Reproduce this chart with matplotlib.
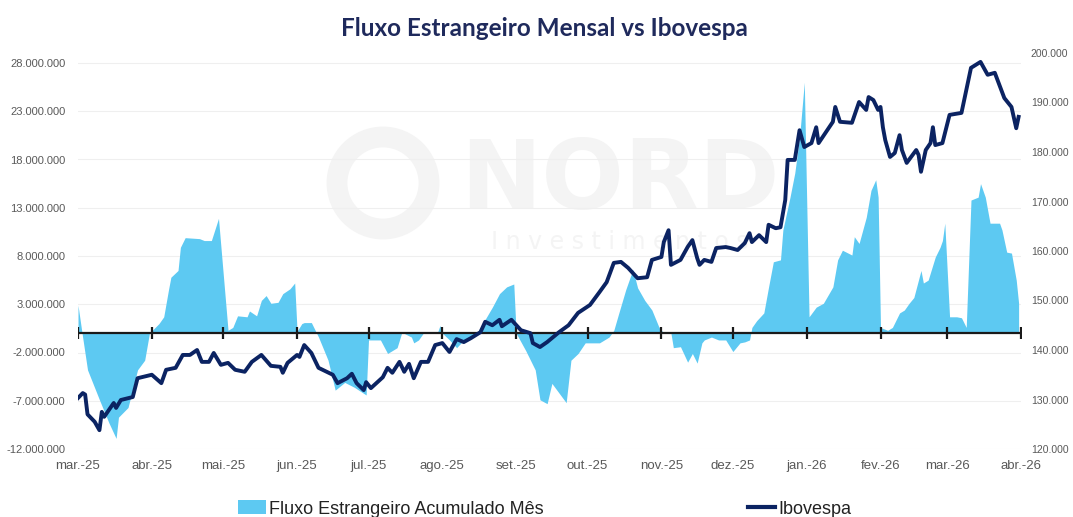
import matplotlib
matplotlib.use("Agg")
import matplotlib.pyplot as plt
from matplotlib import font_manager as fm
from matplotlib.patches import Circle, Patch
from matplotlib.lines import Line2D
import pandas as pd

# ---------------- data ----------------
flow_dates = [
    "2025-03-01", "2025-03-03", "2025-03-05", "2025-03-10", "2025-03-14", "2025-03-17", "2025-03-18",
    "2025-03-22", "2025-03-26", "2025-03-29", "2025-03-31",
    "2025-04-04", "2025-04-06", "2025-04-08", "2025-04-09", "2025-04-12", "2025-04-13", "2025-04-15",
    "2025-04-21", "2025-04-23", "2025-04-26", "2025-04-29",
    "2025-05-03", "2025-05-05", "2025-05-07", "2025-05-11", "2025-05-12", "2025-05-15", "2025-05-17",
    "2025-05-19", "2025-05-21", "2025-05-24", "2025-05-26", "2025-05-29", "2025-05-31",
    "2025-06-01", "2025-06-03", "2025-06-04", "2025-06-07", "2025-06-10", "2025-06-14", "2025-06-17",
    "2025-06-21", "2025-06-25", "2025-06-30",
    "2025-07-01", "2025-07-06", "2025-07-09", "2025-07-13", "2025-07-15", "2025-07-19", "2025-07-20",
    "2025-07-22", "2025-07-24", "2025-07-30", "2025-07-31",
    "2025-08-01", "2025-08-04", "2025-08-07", "2025-08-10", "2025-08-13", "2025-08-15", "2025-08-17",
    "2025-08-22", "2025-08-25", "2025-08-28", "2025-08-31",
    "2025-09-01", "2025-09-05", "2025-09-09", "2025-09-11", "2025-09-14", "2025-09-16", "2025-09-19",
    "2025-09-22", "2025-09-24", "2025-09-27", "2025-09-30",
    "2025-10-06", "2025-10-10", "2025-10-12", "2025-10-14", "2025-10-17", "2025-10-20", "2025-10-22",
    "2025-10-25", "2025-10-28", "2025-10-31",
    "2025-11-02", "2025-11-05", "2025-11-06", "2025-11-09", "2025-11-12", "2025-11-14", "2025-11-16",
    "2025-11-18", "2025-11-19", "2025-11-22", "2025-11-25", "2025-11-28",
    "2025-12-01", "2025-12-04", "2025-12-06", "2025-12-08", "2025-12-09", "2025-12-11", "2025-12-14",
    "2025-12-16", "2025-12-18", "2025-12-21", "2025-12-22", "2025-12-25", "2025-12-27", "2025-12-29",
    "2025-12-31",
    "2026-01-02", "2026-01-05", "2026-01-08", "2026-01-12", "2026-01-14", "2026-01-16", "2026-01-20",
    "2026-01-21", "2026-01-23", "2026-01-26", "2026-01-28", "2026-01-30", "2026-01-31",
    "2026-02-01", "2026-02-04", "2026-02-06", "2026-02-09", "2026-02-11", "2026-02-13", "2026-02-15",
    "2026-02-18", "2026-02-19", "2026-02-21", "2026-02-24", "2026-02-26", "2026-02-27", "2026-02-28",
    "2026-03-02", "2026-03-05", "2026-03-07", "2026-03-09", "2026-03-11", "2026-03-14", "2026-03-15",
    "2026-03-17", "2026-03-19", "2026-03-23", "2026-03-24", "2026-03-26", "2026-03-28", "2026-03-30",
    "2026-03-31",
]
# foreign flow, cumulative in the month (millions)
flow_values = [
    2.9, -0.5, -3.8, -6.9, -9.3, -10.9, -8.7,
    -7.7, -3.8, -2.8, 0.0,
    1.0, 1.7, 4.5, 5.8, 6.5, 8.9, 9.9,
    9.8, 9.6, 9.6, 11.9,
    0.3, 0.6, 1.8, 1.7, 2.3, 1.8, 3.4,
    3.9, 3.1, 3.2, 4.1, 4.6, 5.2,
    0.2, 1.0, 1.1, 1.1, -0.4, -2.8, -5.9,
    -5.1, -5.6, -6.4,
    -0.7, -0.7, -2.1, -1.5, 0.1, -0.4, -1.0,
    -0.7, 0.0, 0.1, 0.8,
    0.0, -0.7, -1.5, -0.7, -0.4, -0.2, 0.6,
    2.7, 4.1, 4.8, 5.1,
    0.0, -1.8, -3.8, -6.9, -7.3, -5.2, -6.2,
    -7.2, -2.8, -2.1, -1.0,
    -1.0, -0.4, 0.3, 2.0, 4.5, 6.6, 4.7,
    3.4, 2.4, 0.6,
    0.0, 0.0, -1.5, -1.4, -3.0, -2.1, -3.1,
    -1.0, -0.7, -0.4, -0.7, -0.7,
    -1.9, -1.0, -0.9, -0.7, 0.6, 1.3, 2.1,
    4.8, 7.4, 7.6, 10.7, 14.1, 16.6, 20.3,
    26.0,
    1.7, 2.7, 3.1, 4.8, 7.6, 8.6, 8.1,
    10.0, 9.3, 12.0, 14.8, 15.9, 14.1,
    0.6, 0.3, 0.6, 2.1, 2.4, 3.1, 3.7,
    6.5, 5.2, 5.5, 7.9, 8.9, 9.6, 11.4,
    1.7, 1.7, 1.6, 0.6, 13.8, 14.1, 15.5,
    14.1, 11.4, 11.4, 10.7, 8.4, 8.3, 5.5,
    3.1,
]

ibov_dates = [
    "2025-03-01", "2025-03-03", "2025-03-04", "2025-03-05", "2025-03-08", "2025-03-10", "2025-03-11",
    "2025-03-12", "2025-03-16", "2025-03-17", "2025-03-19", "2025-03-24", "2025-03-26",
    "2025-04-01", "2025-04-05", "2025-04-07", "2025-04-11", "2025-04-14", "2025-04-17", "2025-04-20",
    "2025-04-22", "2025-04-25", "2025-04-27", "2025-04-30",
    "2025-05-03", "2025-05-06", "2025-05-10", "2025-05-13", "2025-05-17", "2025-05-21", "2025-05-25",
    "2025-05-26", "2025-05-28",
    "2025-06-01", "2025-06-02", "2025-06-04", "2025-06-07", "2025-06-10", "2025-06-16", "2025-06-18",
    "2025-06-22", "2025-06-24", "2025-06-26", "2025-06-29", "2025-06-30",
    "2025-07-02", "2025-07-07", "2025-07-09", "2025-07-11", "2025-07-14", "2025-07-16", "2025-07-18",
    "2025-07-20", "2025-07-23", "2025-07-26", "2025-07-29",
    "2025-08-01", "2025-08-04", "2025-08-07", "2025-08-10", "2025-08-13", "2025-08-17", "2025-08-19",
    "2025-08-22", "2025-08-25", "2025-08-26", "2025-08-30",
    "2025-09-03", "2025-09-07", "2025-09-08", "2025-09-11", "2025-09-14", "2025-09-16", "2025-09-19",
    "2025-09-23", "2025-09-27",
    "2025-10-02", "2025-10-06", "2025-10-09", "2025-10-12", "2025-10-15", "2025-10-18", "2025-10-22",
    "2025-10-26", "2025-10-28",
    "2025-11-01", "2025-11-02", "2025-11-04", "2025-11-05", "2025-11-09", "2025-11-12", "2025-11-14",
    "2025-11-16", "2025-11-17", "2025-11-19", "2025-11-22", "2025-11-24", "2025-11-28", "2025-11-30",
    "2025-12-03", "2025-12-06", "2025-12-08", "2025-12-09", "2025-12-12", "2025-12-15", "2025-12-16",
    "2025-12-19", "2025-12-21", "2025-12-23", "2025-12-24", "2025-12-27", "2025-12-29", "2025-12-31",
    "2026-01-03", "2026-01-05", "2026-01-06", "2026-01-12", "2026-01-13", "2026-01-15", "2026-01-20",
    "2026-01-23", "2026-01-26", "2026-01-27", "2026-01-29", "2026-01-31",
    "2026-02-01", "2026-02-02", "2026-02-03", "2026-02-05", "2026-02-07", "2026-02-09", "2026-02-10",
    "2026-02-12", "2026-02-16", "2026-02-17", "2026-02-18", "2026-02-20", "2026-02-22", "2026-02-23",
    "2026-02-24", "2026-02-27",
    "2026-03-02", "2026-03-07", "2026-03-11", "2026-03-15", "2026-03-18", "2026-03-21", "2026-03-25",
    "2026-03-28", "2026-03-30", "2026-03-31",
]
# Ibovespa level (thousand points)
ibov_values = [
    130.3, 131.3, 131.0, 127.0, 125.5, 123.8, 127.5,
    126.5, 129.3, 128.3, 129.9, 130.5, 134.3,
    135.0, 133.3, 136.0, 136.4, 139.0, 139.0, 140.0,
    137.6, 137.6, 139.4, 137.0,
    137.4, 136.0, 135.6, 137.6, 139.0, 136.8, 136.6,
    135.4, 137.4,
    139.0, 138.6, 141.0, 139.4, 136.4, 135.0, 133.3,
    134.3, 135.2, 133.3, 131.9, 133.5,
    132.3, 134.5, 136.4, 135.4, 137.6, 135.6, 137.2,
    134.3, 137.6, 137.6, 141.0,
    141.4, 139.6, 142.2, 141.6, 142.4, 143.6, 145.7,
    145.0, 146.1, 144.8, 146.1,
    144.0, 143.4, 141.4, 140.6, 141.6, 142.4, 143.6,
    145.0, 147.5,
    149.1, 151.7, 153.7, 157.6, 157.8, 156.6, 154.5,
    154.7, 158.2,
    158.8, 161.8, 164.2, 157.2, 158.2, 160.8, 162.2,
    158.6, 157.2, 158.2, 157.8, 160.6, 160.8, 160.6,
    160.2, 161.6, 163.6, 161.8, 163.2, 161.8, 165.3,
    164.6, 164.8, 170.3, 178.4, 178.4, 184.4, 181.0,
    181.8, 185.0, 181.8, 186.1, 189.1, 186.1, 185.9,
    190.1, 188.5, 191.1, 190.5, 188.5,
    189.1, 185.0, 182.4, 179.0, 179.8, 183.4, 180.4,
    177.8, 180.4, 179.4, 176.0, 180.4, 181.8, 185.0,
    181.4, 181.8,
    187.5, 187.9, 197.0, 198.2, 195.6, 196.0, 190.9,
    189.1, 184.8, 187.1,
]

month_starts = ["2025-03-01", "2025-04-01", "2025-05-01", "2025-06-01", "2025-07-01", "2025-08-01",
                "2025-09-01", "2025-10-01", "2025-11-01", "2025-12-01", "2026-01-01", "2026-02-01",
                "2026-03-01", "2026-04-01"]
month_labels = ["mar.-25", "abr.-25", "mai.-25", "jun.-25", "jul.-25", "ago.-25", "set.-25",
                "out.-25", "nov.-25", "dez.-25", "jan.-26", "fev.-26", "mar.-26", "abr.-26"]
left_ticks = [-12, -7, -2, 3, 8, 13, 18, 23, 28]
right_ticks = [120, 130, 140, 150, 160, 170, 180, 190, 200]

title = "Fluxo Estrangeiro Mensal vs Ibovespa"
flow_label = "Fluxo Estrangeiro Acumulado Mês"
ibov_label = "Ibovespa"

# ---------------- style ----------------
names = {f.name for f in fm.fontManager.ttflist}
tick_font = "Liberation Sans Narrow" if "Liberation Sans Narrow" in names else "Liberation Sans"
title_font = "Lato" if "Lato" in names else "DejaVu Sans"

FILL = "#5DC9F2"
LINE = "#0B2362"
TICK_COLOR = "#595959"

W, H = 1073, 517
fig = plt.figure(figsize=(W / 100, H / 100), dpi=100)
fig.patch.set_facecolor("white")


def fx(px):
    return px / W


def fy(py):
    return 1 - py / H


ax_left, ax_right, ax_top, ax_bottom = 78, 1021, 53, 449
ax = fig.add_axes([fx(ax_left), fy(ax_bottom), fx(ax_right - ax_left), (ax_bottom - ax_top) / H])
ax.set_facecolor("none")

# watermark (behind everything)
wm_color = "#F4F4F4"
fig.patches.append(Circle((383, H - 183), 46, transform=None, fill=False,
                          edgecolor=wm_color, linewidth=15, zorder=-2))
fig.text(fx(620), fy(183), "NORD", fontsize=70, fontweight="bold", color=wm_color,
         ha="center", va="center", family="DejaVu Sans", zorder=-2)
fig.text(fx(620), fy(242), "I n v e s t i m e n t o s", fontsize=17, color="#F4F4F4",
         ha="center", va="center", family="DejaVu Sans", zorder=-2)

fd = pd.to_datetime(flow_dates)
idates = pd.to_datetime(ibov_dates)
ms = pd.to_datetime(month_starts)

ax.fill_between(fd, 0, flow_values, color=FILL, linewidth=0, zorder=2)
ax.set_ylim(-12, -12 + (ax_bottom - ax_top) * 40 / 386)
ax.set_xlim(ms[0], ms[-1])
ax.set_yticks(left_ticks)
ax.set_yticklabels([f"{v * 1_000_000:,.0f}".replace(",", ".") for v in left_ticks])
ax.set_xticks(ms)
ax.set_xticklabels(month_labels)
ax.grid(axis="y", color="#EFEFEF", linewidth=0.8, zorder=0)
ax.set_axisbelow(True)
for s in ax.spines.values():
    s.set_visible(False)
ax.tick_params(axis="both", length=0, colors=TICK_COLOR)
ax.tick_params(axis="y", pad=9, labelsize=8)
ax.tick_params(axis="x", pad=8, labelsize=9.5)
for lab in ax.get_xticklabels() + ax.get_yticklabels():
    lab.set_family(tick_font)

# zero axis with month tick marks
ax.plot(ms, [0] * len(ms), color="#1A1A1A", linewidth=1.6, marker="|", markersize=9,
        markeredgewidth=1.6, zorder=3)

ax2 = ax.twinx()
ax2.plot(idates, ibov_values, color=LINE, linewidth=2.8, solid_joinstyle="round", zorder=4)
ax2.set_ylim(120, 200)
ax2.set_yticks(right_ticks)
ax2.set_yticklabels([f"{v * 1000:,.0f}".replace(",", ".") for v in right_ticks])
for s in ax2.spines.values():
    s.set_visible(False)
ax2.tick_params(axis="y", length=0, colors=TICK_COLOR, pad=7, labelsize=7.5)
for lab in ax2.get_yticklabels():
    lab.set_family(tick_font)
ax2.set_xlim(ms[0], ms[-1])

fig.text(fx(544), fy(28), title, ha="center", va="center", fontsize=17.5, fontweight="bold",
         color="#1F2A5C", family=title_font)

handles = [Patch(facecolor=FILL, edgecolor="none"), Line2D([0], [0], color=LINE, linewidth=3)]
leg = fig.legend(handles, [flow_label, ibov_label], loc="center", bbox_to_anchor=(fx(545), fy(509)),
                 ncol=2, frameon=False, prop={"family": tick_font, "size": 13},
                 handlelength=1.5, handleheight=0.8, handletextpad=0.2, columnspacing=11.3)
for t in leg.get_texts():
    t.set_color("#222222")

fig.savefig("out.png", dpi=100, facecolor="white")
